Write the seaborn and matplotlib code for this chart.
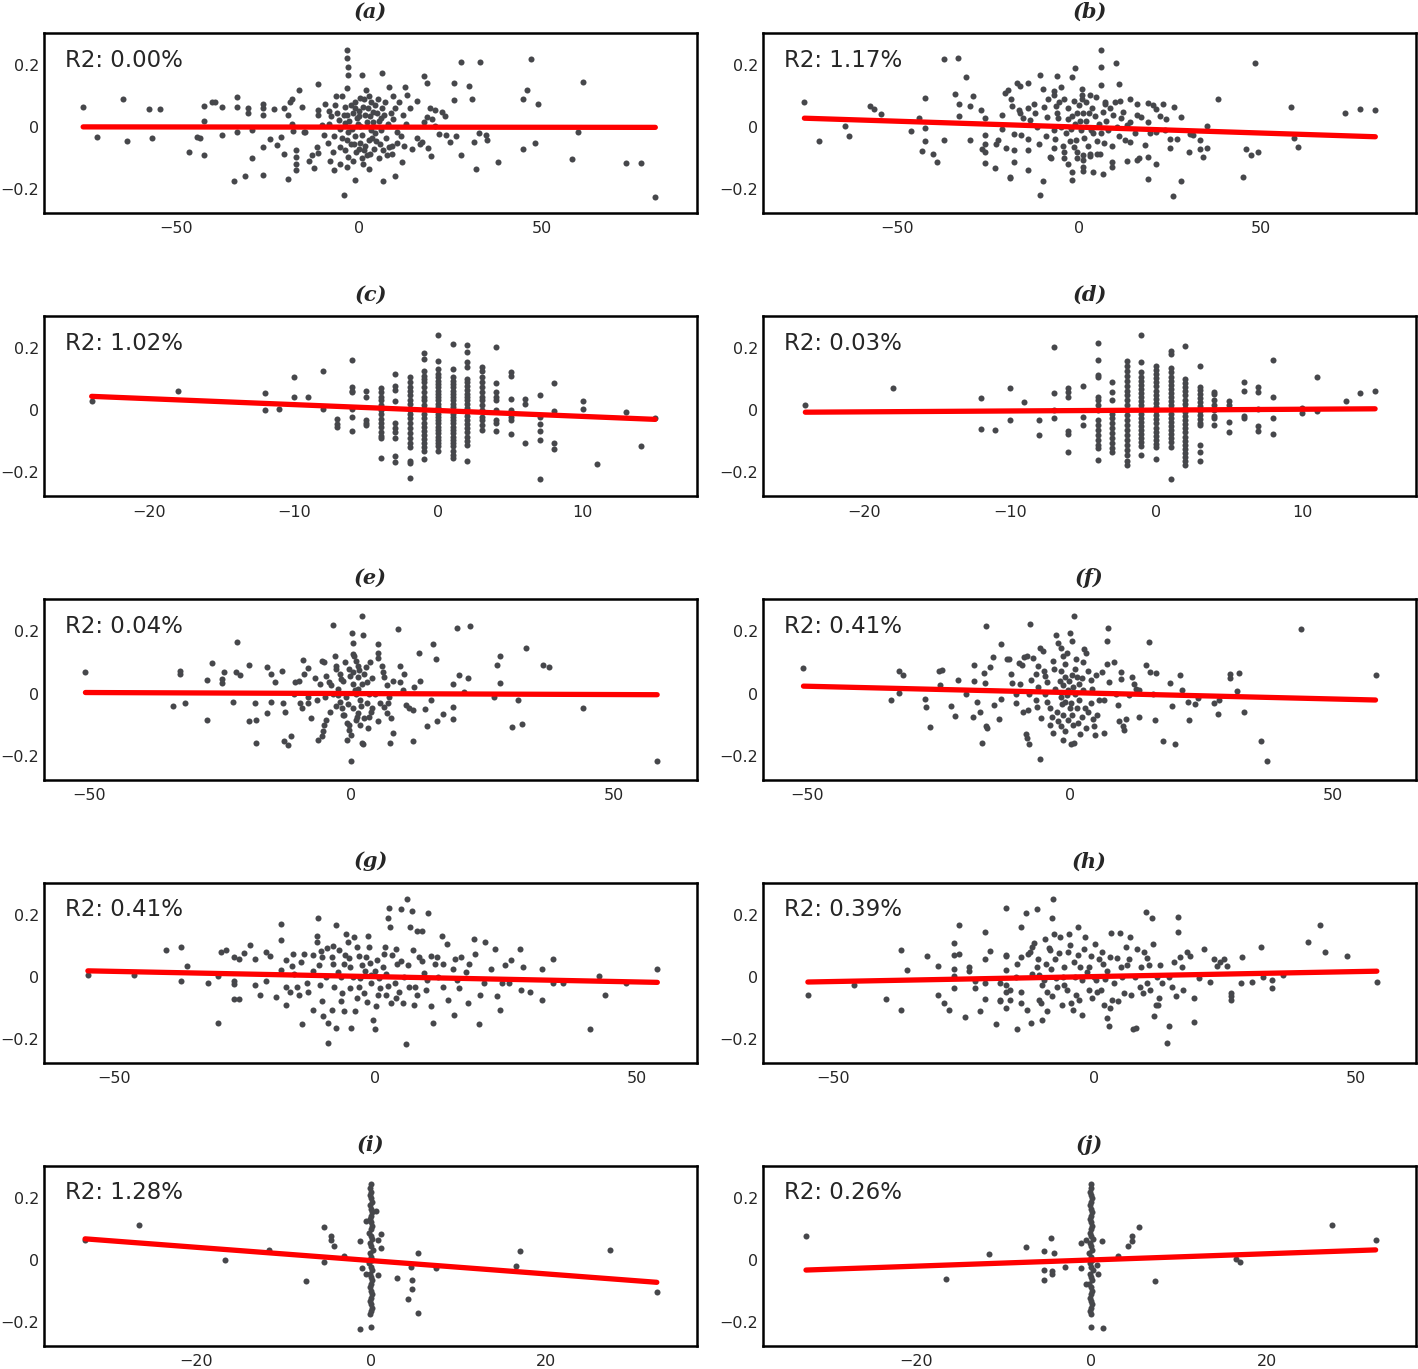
import numpy as np
import pandas as pd
import matplotlib
matplotlib.use('Agg')
import matplotlib.pyplot as plt
import seaborn as sns

# points, one list per panel (x, y)
a_pts = [(-75.3, 0.065), (-71.4, -0.031), (-64.4, 0.089), (-63.3, -0.044), (-57.3, 0.058), (-54.3, 0.058), (-56.4, -0.036),
         (-46.3, -0.08), (-42.3, -0.09), (-42.3, 0.02), (-42.3, 0.067), (-40.2, 0.08), (-39.3, 0.08), (-44.2, -0.032), (-43.3, -0.035),
         (-37.3, 0.065), (-37.3, -0.026), (-33.2, 0.097), (-33.2, 0.065), (-33.2, -0.017), (-34.2, -0.173), (-31, -0.158), (-29.2, -0.1),
         (-30.3, 0.062), (-30.3, 0.046), (-29.2, -0.01), (-26.2, 0.073), (-26.2, 0.06), (-26.2, 0.039), (-26.2, -0.064), (-26.2, -0.155),
         (-24.2, -0.037), (-23.2, 0.059), (-22.3, -0.059), (-21.2, -0.031), (-20.3, -0.088), (-19.2, -0.166), (-20.3, 0.06), (-18.8, 0.08),
         (-18.3, 0.09), (-19.2, 0.038), (-18.3, 0.011), (-17.9, -0.014), (-17.2, -0.075), (-17.2, -0.096), (-17, -0.12), (-17, -0.137),
         (-16.2, 0.12), (-15.5, 0.066), (-15, -0.017), (-14.6, -0.017), (-13.7, -0.11), (-12.8, -0.09), (-12.3, -0.133), (-11.1, 0.138),
         (-11, 0.055), (-11.1, 0.039), (-11.3, -0.064), (-11, -0.084), (-10, 0.006), (-9.6, -0.026), (-9.1, 0.073), (-8.2, 0.051),
         (-6.8, -0.137), (-6.1, 0.1), (-6.8, -0.03), (-5.5, 0.023), (-5, -0.007), (-5, -0.064), (-5, -0.118), (-4.1, -0.219),
         (-3.2, 0.248), (-3.2, 0.222), (-2.8, 0.194), (-2.8, 0.168), (-3.2, 0.125), (-3.6, 0.066), (-3.2, 0.039), (-3.6, 0.012),
         (-2.8, -0.015), (-3.2, -0.042), (-3.6, -0.074), (-2.8, -0.096), (-3.2, -0.128), (-1.1, -0.171), (-0.9, 0.08), (0, 0.051),
         (-0.5, 0.03), (0.5, 0.005), (-1, -0.03), (0.3, -0.05), (-0.6, -0.08), (1, -0.1), (0.9, 0.168), (2, 0.12), (1.5, 0.09),
         (2.5, 0.06), (3, 0.035), (2.2, 0.015), (3.5, -0.01), (2.8, -0.04), (1.8, -0.06), (3.2, -0.085), (2.9, -0.136), (4.6, 0.07),
         (5, 0.045), (5.5, 0.02), (4.5, -0.02), (5.8, -0.055), (6.4, 0.174), (6.8, -0.172), (7.3, 0.08), (7, 0.04), (8, 0.01),
         (7.5, -0.035), (8.2, -0.065), (7.8, -0.09), (8.2, 0.13), (9.5, 0.1), (10, 0.06), (9.5, 0.025), (10.5, -0.015), (10, -0.158),
         (10.5, -0.05), (11.9, -0.112), (12.8, 0.13), (13.2, 0.105), (12, 0.04), (13, 0.01), (12.5, -0.06), (15.9, 0.084),
         (15.9, -0.034), (16.9, -0.055), (17.4, -0.047), (17.8, 0.164), (18.7, 0.143), (19.6, 0.063), (21, 0.055), (18.7, 0.033),
         (20.1, 0.027), (21, 0.003), (17.8, 0.017), (19.1, -0.068), (19.9, -0.092), (22.8, 0.048), (23.7, 0.035), (22, -0.022),
         (23.9, -0.026), (25, -0.047), (26.5, -0.03), (26, 0.141), (26, 0.087), (28, 0.21), (28, -0.09), (30.1, 0.131), (31, 0.09),
         (32.8, -0.018), (31.5, -0.047), (32, -0.134), (33.1, 0.21), (34.7, -0.025), (35, -0.04), (38.2, -0.113), (45, 0.089),
         (45.9, 0.119), (47, 0.22), (49, 0.073), (45, -0.07), (48.1, -0.052), (58.2, -0.104), (60.1, -0.017), (61.2, 0.144),
         (73.1, -0.114), (77.2, -0.115), (81.1, -0.224),
         (-2, 0.07), (-1.5, 0.045), (-2.5, 0.02), (-1.8, -0.005), (-2.2, -0.055), (-1.5, -0.11), (0.5, 0.095), (1.2, 0.065),
         (-0.3, 0.01), (0.8, -0.025), (1.5, -0.075), (1.2, -0.12), (2.8, 0.1), (3.8, 0.05), (4, 0.015), (3.6, -0.035), (4.2, -0.07),
         (5.2, 0.09), (6, -0.01), (6.2, 0.03), (5.6, -0.1), (8.8, 0.045), (9.2, -0.06), (11, 0.08), (11.5, -0.03), (14, 0.06),
         (14.5, -0.07), (-7.5, 0.035), (-8.5, -0.05), (-6.5, 0.07), (-4.5, 0.1), (-7, -0.08),
         (-1, 0.06), (0.2, 0.035), (1.8, 0.04), (-1.2, -0.055), (0, -0.07), (2.2, -0.09), (3.5, 0.08), (4.8, -0.045),
         (6.5, 0.06), (6.8, -0.075), (-6, 0.045), (-8, 0.01), (-4, 0.04), (-4.5, -0.035), (-7.8, -0.11), (9, -0.085)]

b_pts = [(-75.6, 0.08), (-71.6, -0.044), (-64.5, 0.004), (-63.4, -0.027), (-57.4, 0.068), (-56.3, 0.057), (-54.4, 0.041),
         (-46.2, -0.013), (-44.1, 0.03), (-42.3, 0.094), (-42.3, -0.003), (-42.3, -0.045), (-43.2, -0.077), (-40.2, -0.088),
         (-39.2, -0.112), (-37.2, 0.218), (-33.2, 0.222), (-37.2, -0.042), (-34.2, 0.108), (-33, 0.074), (-33, 0.035), (-31, 0.16),
         (-29.1, 0.1), (-30, 0.068), (-30, -0.042), (-27.1, 0.055), (-25.9, 0.03), (-26, -0.024), (-26, -0.053), (-26.6, -0.069),
         (-26, -0.08), (-26, -0.115), (-23.1, -0.133), (-22.9, -0.053), (-22.3, -0.04), (-21.2, 0.038), (-21.2, -0.007),
         (-20.3, 0.11), (-19.4, 0.119), (-20, -0.066), (-18.8, 0.089), (-18.4, 0.068), (-19.1, -0.16), (-19.1, -0.165),
         (-18, -0.021), (-18, -0.074), (-18, -0.113), (-17.1, 0.141), (-16.2, 0.133), (-16.6, 0.055), (-16.2, 0.044),
         (-15.3, 0.028), (-16, -0.025), (-13.9, 0.141), (-14, 0.061), (-13.4, 0.024), (-13.9, -0.037), (-13.9, -0.074),
         (-14, -0.137), (-12.5, 0.074), (-11.6, 0.0), (-11.1, -0.053), (-10.7, -0.219), (-10.8, 0.167), (-10, 0.122),
         (-9.6, 0.064), (-8.7, 0.031), (-9.9, -0.173), (-7.7, -0.1), (-6.8, 0.105), (-6.3, 0.068), (-5.9, 0.028), (-6.6, -0.037),
         (-6.8, -0.066), (6.0, 0.248), (6, 0.192), (6, 0.137), (10.1, 0.208), (11, 0.139), (-1.1, 0.189), (-2, 0.16), (-6.1, 0.165),
         (-5, 0.13), (-7, 0.117), (0.9, 0.124), (0.9, 0.105), (0.9, 0.089), (3, 0.103), (4.8, 0.098), (7.1, 0.082), (7.1, 0.074),
         (9.9, 0.082), (11.3, 0.084), (14, 0.089), (16.1, 0.074), (19.1, 0.078), (20.4, 0.071), (21.3, 0.057), (23.2, 0.074),
         (26.2, 0.065), (38.3, 0.089), (48.4, 0.207), (58.4, 0.065), (73.3, 0.046), (77.5, 0.059), (81.6, 0.056), (35.3, 0.005),
         (28.2, 0.033), (24.1, 0.025), (22.2, 0.036), (19.1, 0.017), (17.2, 0.033), (14, 0.017), (13.1, 0.008), (30.5, -0.022),
         (31.4, -0.026), (33.2, -0.042), (35.3, -0.066), (33.2, -0.069), (34.2, -0.096), (30.2, -0.08), (25, -0.037),
         (27.1, -0.037), (25.2, -0.066), (23.6, -0.009), (21.1, -0.015), (19.5, -0.018), (18.1, -0.058), (19.1, -0.096),
         (21.2, -0.12), (16.1, -0.106), (16.6, -0.099), (13.1, -0.109), (14, -0.047), (12.6, -0.04), (19, -0.167), (26, -0.222),
         (28, -0.174), (45.2, -0.16), (46, -0.069), (47.3, -0.09), (49.3, -0.079), (59.3, -0.035), (60.4, -0.063), (9, -0.061),
         (9, -0.112), (9, -0.128), (6.7, -0.152), (3.9, -0.143), (-2, -0.144), (-2, -0.169), (1, -0.106), (1, -0.128),
         (3, -0.093), (4.9, -0.088), (5.8, -0.087), (1.2, -0.09), (-0.6, -0.079), (-4, -0.101), (-4, -0.079), (-8, -0.096),
         (-4, 0.09), (-3, 0.06), (-2, 0.035), (-1, 0.01), (-3.5, -0.02), (-2.5, -0.045), (-1.5, -0.065), (0, 0.07), (1, 0.045),
         (2, 0.02), (0.5, -0.01), (1.5, -0.035), (2.5, -0.06), (3.5, 0.06), (4.5, 0.035), (5.5, 0.01), (4, -0.02), (5, -0.045),
         (6.5, 0.05), (7.5, 0.02), (8, -0.01), (7, -0.05), (9.5, 0.04), (10.5, 0.0), (11, -0.03), (12, 0.05), (-6, 0.045),
         (-5, 0.0), (-7, -0.01), (-4.5, -0.06), (-5.5, 0.08), (2, 0.08), (3, -0.085), (-0.5, -0.1), (-3, -0.12), (1, -0.14),
         (-1.5, 0.085), (-0.5, 0.045), (0.2, 0.02), (-2.2, -0.005), (-0.8, -0.04), (2.8, 0.045), (3.2, -0.01), (6.2, -0.02),
         (8.5, 0.06), (-3, 0.025), (-9, -0.03), (-12, 0.045), (15.5, -0.02), (11.5, 0.03), (16, 0.04), (-8.5, 0.09)]

# panels c and d have integer x values: column -> y values
c_cols = {-24: [0.03], -18: [0.063], -12: [0.055, 0.0], -11: [0.003], -10: [0.106, 0.044], -9: [0.044],
          -8: [0.127, 0.003], -7: [-0.027, -0.043, -0.053], -6: [0.162, 0.076, 0.063, 0.058, 0.003, -0.021, -0.066],
          -5: [0.063, 0.044, -0.03, -0.04, -0.048],
          -4: [0.072, 0.058, 0.044, 0.032, 0.016, 0.002, -0.013, -0.027, -0.04, -0.053, -0.069, -0.083, -0.088, -0.154],
          -3: [0.116, 0.079, 0.065, 0.03, -0.042, -0.058, -0.069, -0.09, -0.148, -0.167],
          -2: [0.106, 0.09, 0.076, 0.063, 0.048, 0.032, 0.021, 0.0, -0.013, -0.026, -0.042, -0.058, -0.074, -0.09, -0.106,
               -0.119, -0.164, -0.171, -0.217],
          -1: [0.185, 0.164, 0.127, 0.111, 0.1, 0.09, 0.074, 0.058, 0.044, 0.032, 0.018, 0.003, -0.013, -0.026, -0.04, -0.053,
               -0.066, -0.079, -0.093, -0.106, -0.119, -0.132, -0.157],
          0: [0.241, 0.159, 0.132, 0.116, 0.106, 0.095, 0.085, 0.074, 0.063, 0.053, 0.042, 0.032, 0.021, 0.011, 0.0, -0.011,
              -0.021, -0.032, -0.042, -0.053, -0.063, -0.074, -0.085, -0.095, -0.106, -0.116, -0.132],
          1: [0.212, 0.132, 0.106, 0.095, 0.085, 0.074, 0.063, 0.053, 0.042, 0.032, 0.021, 0.011, 0.0, -0.011, -0.021, -0.032,
              -0.042, -0.053, -0.063, -0.074, -0.085, -0.095, -0.106, -0.116, -0.132, -0.143, -0.153],
          2: [0.211, 0.187, 0.156, 0.14, 0.101, 0.09, 0.079, 0.066, 0.053, 0.042, 0.032, 0.021, 0.008, -0.005, -0.018, -0.032,
              -0.045, -0.058, -0.071, -0.085, -0.098, -0.111, -0.164],
          3: [0.14, 0.127, 0.106, 0.09, 0.074, 0.058, 0.044, 0.032, 0.016, 0.0, -0.021, -0.032, -0.048, -0.062],
          4: [0.204, 0.087, 0.058, 0.044, 0.032, 0.0, -0.03, -0.042, -0.066],
          5: [0.122, 0.111, 0.037, 0.0, -0.021, -0.032, -0.076], 6: [0.037, 0.021, -0.104],
          7: [0.048, -0.021, -0.043, -0.066, -0.096, -0.22], 8: [0.088, -0.002, -0.106, -0.125],
          10: [0.03, 0.003], 11: [-0.172], 13: [-0.005], 14: [-0.115], 15: [-0.024]}

d_cols = {-24: [0.018], -18: [0.071], -12: [0.039, -0.06], -11: [-0.063], -10: [0.071, -0.032], -9: [0.026],
          -8: [-0.03, -0.079], -7: [0.203, 0.056, 0.002, -0.024], -6: [0.071, 0.058, 0.042, -0.066, -0.076, -0.135],
          -5: [0.077, -0.021, -0.048],
          -4: [0.217, 0.161, 0.113, 0.106, 0.044, 0.032, 0.016, 0.0, -0.032, -0.048, -0.063, -0.079, -0.095, -0.111, -0.122,
               -0.159],
          -3: [0.09, 0.06, 0.032, -0.011, -0.026, -0.042, -0.058, -0.074, -0.09, -0.106, -0.122, -0.135],
          -2: [0.159, 0.143, 0.127, 0.111, 0.095, 0.079, 0.063, 0.048, 0.032, 0.016, 0.0, -0.016, -0.032, -0.048, -0.063,
               -0.079, -0.095, -0.111, -0.127, -0.143, -0.164, -0.175],
          -1: [0.243, 0.157, 0.122, 0.108, 0.095, 0.082, 0.069, 0.056, 0.042, 0.029, 0.016, 0.003, -0.011, -0.024, -0.037,
               -0.05, -0.063, -0.077, -0.09, -0.103, -0.116, -0.143],
          0: [0.143, 0.13, 0.116, 0.103, 0.09, 0.077, 0.063, 0.05, 0.037, 0.024, 0.011, -0.003, -0.016, -0.029, -0.042,
              -0.056, -0.069, -0.082, -0.095, -0.108, -0.119, -0.156],
          1: [0.19, 0.182, 0.135, 0.122, 0.108, 0.095, 0.082, 0.069, 0.056, 0.042, 0.029, 0.016, 0.003, -0.011, -0.024,
              -0.037, -0.05, -0.063, -0.077, -0.09, -0.103, -0.119, -0.22],
          2: [0.206, 0.1, 0.087, 0.074, 0.061, 0.048, 0.034, 0.021, 0.008, -0.005, -0.018, -0.032, -0.045, -0.058, -0.071,
              -0.085, -0.098, -0.111, -0.124, -0.138, -0.151, -0.164, -0.175],
          3: [0.143, 0.076, 0.066, 0.053, 0.04, 0.026, 0.013, -0.003, -0.016, -0.029, -0.042, -0.048, -0.111, -0.135, -0.164],
          4: [0.06, 0.053, 0.034, 0.016, 0.0, -0.019, -0.026, -0.048], 5: [0.03, 0.016, -0.037, -0.069],
          6: [0.092, 0.063, -0.019, -0.024], 7: [0.076, 0.058, 0.005, -0.051, -0.066], 8: [0.162, 0.044, -0.024, -0.076],
          10: [0.007, -0.008], 11: [0.106, -0.003], 13: [0.03], 14: [0.056], 15: [0.063]}

e_pts = [(-50.7, 0.068), (-34.1, -0.04), (-31.7, -0.03), (-32.6, 0.063), (-32.6, 0.072), (-27.5, 0.044), (-27.5, -0.085),
         (-26.6, 0.097), (-24.7, 0.048), (-24.6, 0.034), (-24.3, 0.068), (-22.6, -0.026), (-22, 0.068), (-21.2, 0.061),
         (-21.8, 0.167), (-19.6, -0.09), (-18.2, -0.085), (-19.6, 0.092), (-18.4, -0.032), (-18.1, -0.159), (-16.1, 0.085),
         (-15.4, 0.063), (-14.5, 0.037), (-15.4, -0.026), (-16.1, -0.063), (-13.3, 0.072), (-12.8, -0.153), (-12, -0.167),
         (-11.6, -0.138), (-12.7, -0.061), (-10.7, 0.037), (-10, 0.04), (-9.7, -0.032), (-9.4, -0.048), (-9.3, 0.108),
         (-9, 0.063), (-8.2, 0.083), (-8.3, -0.011), (-8.2, -0.032), (-7.7, -0.079), (-6.3, -0.148), (-5.6, -0.138),
         (-5.4, -0.122), (-5.2, -0.101), (-4.8, -0.085), (-5.6, 0.106), (-5.2, 0.101), (-4.9, 0.058), (-4.3, 0.037),
         (-3.9, 0.026), (-3.5, 0.222), (-3.2, 0.122), (-2.9, 0.09), (-2.2, 0.063), (-2, 0.048), (-2.6, -0.005), (-2.2, -0.026),
         (-1.8, -0.048), (-1.4, -0.069), (-0.9, -0.095), (-0.5, -0.116), (-0.1, -0.132), (-0.9, -0.148), (-0.1, -0.217),
         (0.1, 0.196), (0.3, 0.164), (0.3, 0.127), (0.8, 0.106), (1.2, 0.09), (0.3, 0.069), (1.2, 0.053), (0.3, 0.032),
         (1.2, 0.016), (0.8, 0.0), (1.6, -0.021), (0.3, -0.048), (1.2, -0.063), (0.8, -0.085), (1.6, -0.101), (2, 0.249),
         (2.2, 0.19), (2, -0.159), (2.2, -0.164), (2.5, 0.063), (2.9, 0.037), (3.3, 0.0), (2.9, -0.032), (3.7, -0.058),
         (3.3, -0.074), (5, 0.161), (5, 0.132), (5, 0.116), (5.9, 0.09), (6.3, 0.053), (6.7, 0.026), (7.1, -0.011),
         (6.3, -0.042), (6.7, -0.063), (7.6, -0.079), (7.3, -0.159), (8, -0.127), (8.8, 0.208), (9.3, 0.09), (10.1, 0.063),
         (9.3, 0.037), (9.9, 0.011), (10.4, -0.037), (11, -0.048), (11.8, -0.053), (11.8, -0.153), (12.9, 0.13), (13.1, 0.04),
         (14.5, -0.106), (15.2, -0.021), (15.5, 0.161), (16.2, 0.111), (16.3, -0.09), (17.5, -0.066), (19.4, -0.042),
         (19.4, -0.083), (19.4, 0.032), (20.1, 0.212), (20.6, 0.061), (21.4, 0.005), (22.3, 0.051), (22.7, 0.219),
         (27.1, -0.011), (27.7, 0.092), (28.4, 0.122), (28.4, 0.034), (30.7, -0.108), (31.8, -0.021), (32.5, -0.098),
         (33.2, 0.146), (36.5, 0.092), (37.6, 0.087), (44.1, -0.048), (58.3, -0.217),
         (-3, 0.08), (-1.5, 0.04), (-2.5, 0.015), (-1, -0.01), (-3, -0.04), (-1.5, -0.07), (0.5, 0.12), (1.5, 0.075),
         (2, 0.03), (1.8, -0.04), (2.5, -0.08), (-0.5, -0.1), (3.5, 0.1), (4, 0.05), (4.5, 0.0), (4, -0.045), (5, -0.09),
         (-6, 0.03), (-6.5, -0.02), (-7, 0.05), (6, 0.07), (7, -0.03), (8, 0.04), (-4, -0.06), (-0.5, 0.08),
         (-0.2, 0.055), (0.6, 0.01), (-0.6, -0.035), (1, -0.075), (-1.2, 0.1), (2.8, 0.085), (3.2, -0.11), (-3.5, 0.0),
         (-5, -0.01), (5.5, -0.03), (-11, 0.0), (-13, -0.03), (12, 0.02), (14, -0.05)]

f_pts = [(-50.7, 0.083), (-34.1, -0.021), (-32.6, 0.071), (-31.8, 0.06), (-32.6, 0.003), (-27.6, -0.019), (-27.4, -0.042),
         (-26.7, -0.108), (-25, 0.071), (-24.4, 0.076), (-24.8, 0.026), (-22.6, -0.039), (-21.8, -0.072), (-21.3, 0.044),
         (-19.8, 0.0), (-18.5, -0.074), (-18.3, 0.092), (-18.3, 0.04), (-17.6, -0.026), (-17.2, -0.058), (-16.7, -0.159),
         (-16.4, 0.066), (-16.1, 0.034), (-15.9, 0.219), (-15.9, -0.106), (-15.7, -0.111), (-15.2, 0.087), (-14.6, 0.119),
         (-14.4, -0.037), (-13.5, -0.083), (-13.1, -0.019), (-13.1, 0.161), (-12, 0.111), (-11.7, 0.111), (-11.3, 0.063),
         (-11.1, 0.034), (-10.3, -0.032), (-10.2, -0.002), (-9.8, 0.097), (-9.1, 0.093), (-8.7, 0.119), (-8.2, 0.122),
         (-8, -0.053), (-7.8, -0.002), (-7.7, 0.224), (-8.4, -0.129), (-8.2, -0.143), (-7.8, -0.164), (-7.4, 0.042),
         (-7, 0.114), (-6.5, 0.063), (-6.5, -0.021), (-6.3, -0.042), (-5.7, -0.212), (-5.7, 0.148), (-5.2, 0.138),
         (-5, 0.074), (-4.8, 0.058), (-4.4, 0.037), (-4.8, 0.0), (-4.4, -0.026), (-3.9, -0.048), (-3.5, -0.074),
         (-3.9, -0.101), (-3.3, -0.127), (-2.6, 0.19), (-2.2, 0.164), (-1.7, 0.148), (-1.3, 0.122), (-0.9, 0.095),
         (-1.7, 0.074), (-0.9, 0.053), (-1.3, 0.026), (-0.4, 0.011), (-1.7, -0.011), (-0.9, -0.026), (0, -0.048),
         (-1.3, -0.069), (-0.4, -0.085), (-1.7, -0.106), (-0.9, -0.122), (-1.3, -0.148), (0, 0.196), (0.4, 0.169),
         (0.7, 0.249), (0.2, -0.164), (0.7, -0.159), (0.9, 0.079), (1.3, 0.053), (1.7, 0.032), (0.9, 0.0), (1.7, -0.021),
         (1.3, -0.048), (2.2, -0.074), (1.6, -0.095), (2.6, 0.143), (3, 0.132), (3.5, 0.074), (3.9, 0.042), (4.2, 0.016),
         (3.9, -0.032), (3.5, -0.058), (4.4, -0.083), (4.5, -0.106), (4.8, -0.132), (6.1, 0.069), (6.5, -0.021), (7, 0.095),
         (7.2, 0.212), (7.4, 0.037), (7, 0.169), (6.5, -0.127), (8.3, 0.101), (8.7, 0.0), (9.1, -0.037), (9.4, -0.09),
         (9.6, 0.048), (9.7, 0.069), (10, -0.106), (10.2, -0.116), (10.6, -0.083), (11.3, -0.005), (11.7, 0.053),
         (12.2, 0.032), (12.6, 0.016), (13.1, 0.011), (13.1, -0.074), (14.4, 0.092), (15, 0.166), (15.2, 0.069),
         (15.7, 0.0), (16.1, -0.085), (16.4, 0.067), (17.6, -0.153), (19.1, 0.034), (19.3, -0.039), (20, -0.164),
         (20.9, 0.06), (21.3, 0.011), (22.4, -0.026), (22.6, -0.085), (23.8, -0.035), (24.4, -0.014), (27.4, -0.032),
         (28.1, -0.066), (28.3, -0.021), (30.5, 0.063), (30.5, 0.051), (32.2, 0.067), (31.8, 0.007), (33.1, -0.058),
         (36.4, -0.153), (37.4, -0.217), (43.9, 0.208), (58.1, 0.06),
         (-3, 0.08), (-2, 0.04), (-2.8, 0.015), (-1.5, -0.035), (-2.5, -0.06), (-0.5, 0.13), (0.3, 0.06), (0.5, 0.02),
         (0.4, -0.07), (0.6, -0.1), (2.5, 0.1), (2.5, 0.01), (2.8, -0.045), (3, -0.11), (5, 0.06), (5.5, -0.02),
         (5.2, -0.07), (-6, 0.09), (-6, 0.02), (-5.5, -0.08), (-9.5, 0.03), (-9, -0.06),
         (-0.2, 0.04), (-0.6, -0.005), (0.2, -0.03), (-2.2, -0.09), (1.1, 0.11), (-3.3, 0.105), (1.9, -0.13), (2.2, 0.05)]

g_pts = [(-55, 0.005), (-46.1, 0.005), (-40, 0.085), (-37.1, 0.095), (-37.1, -0.014), (-36, 0.034), (-32, -0.019),
         (-30.1, -0.148), (-30.1, 0.003), (-29.6, 0.081), (-28.6, 0.085), (-27.1, 0.063), (-26.1, 0.058), (-27.1, -0.014),
         (-27.1, -0.023), (-27.1, -0.072), (-26.1, -0.072), (-25.2, 0.076), (-23.9, 0.101), (-23, 0.058), (-23, -0.026),
         (-22.1, -0.06), (-21, 0.081), (-21, -0.014), (-20.1, 0.067), (-19, -0.066), (-18, 0.169), (-18, 0.119), (-18, 0.021),
         (-17.1, 0.053), (-17, -0.032), (-17, -0.09), (-16.3, -0.048), (-16, 0.034), (-15.8, 0.074), (-15, -0.032),
         (-14.6, -0.058), (-14.3, 0.048), (-14, -0.151), (-13.7, 0.074), (-12.9, -0.048), (-12, 0.069), (-12, -0.108),
         (-11.2, 0.132), (-11.2, 0.111), (-11, 0.19), (-10.7, 0.037), (-10.6, -0.026), (-10.3, 0.083), (-10.1, 0.063),
         (-10.1, -0.079), (-9.9, -0.127), (-9.2, 0.093), (-9, -0.212), (-9, -0.148), (-8.3, -0.106), (-8.2, 0.063),
         (-8, 0.042), (-7.8, -0.032), (-7.5, 0.167), (-7.5, -0.164), (-7.2, 0.016), (-6.9, 0.085), (-6.6, -0.079),
         (-6.5, 0.0), (-6.3, -0.053), (-6, 0.042), (-5.8, 0.069), (-5.5, 0.138), (-5.2, 0.113), (-4.9, 0.032), (-4.8, -0.037),
         (-4.6, -0.164), (-4.3, 0.0), (-4.1, 0.127), (-3.9, -0.111), (-3.5, 0.095), (-3.1, 0.066), (-3.1, -0.032),
         (-2.6, 0.037), (-2.2, -0.053), (-1.8, 0.063), (-1.4, 0.132), (-1.2, 0.095), (-0.9, 0.005), (-0.9, -0.021),
         (-0.5, -0.138), (-0.1, -0.169), (0.2, -0.095), (0.3, 0.053), (0.8, -0.005), (1, -0.037), (1.6, 0.074), (1.9, 0.095),
         (2, -0.058), (2.5, 0.19), (2.7, 0.222), (2.9, 0.159), (3.1, -0.085), (3.3, 0.069), (3.7, -0.021), (4.2, 0.042),
         (4.6, -0.048), (4.9, 0.217), (5.3, -0.085), (5.5, 0.0), (5.9, -0.217), (6.1, 0.249), (6.3, 0.037), (6.5, -0.032),
         (6.7, 0.161), (7, 0.212), (7.2, 0.085), (7.6, -0.032), (8, 0.146), (8.4, 0.063), (8.9, 0.146), (9.3, 0.011),
         (9.7, -0.042), (10.1, 0.206), (10.6, 0.066), (10.7, -0.095), (11.1, -0.148), (11.4, 0.042), (11.8, 0.063),
         (12.7, 0.132), (12.9, -0.032), (13.8, 0.106), (14, -0.074), (14.8, 0.026), (15, -0.122), (15.2, 0.058),
         (15.7, -0.011), (16.1, -0.037), (16.5, 0.063), (17.4, 0.016), (17.8, -0.085), (18.9, 0.122), (19.1, 0.074),
         (19.8, -0.153), (20.8, -0.019), (21, 0.111), (22.1, 0.026), (22.9, 0.09), (23.3, -0.063), (23.8, -0.106),
         (24.2, -0.021), (24.9, 0.037), (25.6, -0.021), (25.9, 0.053), (27.8, 0.09), (28, -0.042), (28.3, 0.032),
         (29.7, -0.048), (31.9, -0.074), (31.9, 0.026), (34, 0.058), (34, -0.021), (35.9, -0.021), (41.1, -0.167),
         (42.9, 0.003), (44, -0.058), (48, -0.021), (54, 0.026),
         (-2, 0.02), (-1, 0.045), (0, 0.02), (1.5, 0.03), (-3.5, -0.07), (-1.5, -0.08), (0.5, -0.06), (2.5, -0.03),
         (4, 0.09), (5, 0.05), (8, -0.06), (9, 0.05), (12, 0.0), (-8, 0.1), (-12, 0.02), (-13, -0.02),
         (-5, 0.06), (-3, -0.005), (2, 0.01), (4, -0.07), (10, -0.01), (13, 0.04), (-9.5, 0.0), (-15.5, 0.01), (18, 0.04),
         (20, -0.06), (7.5, -0.09), (-6, -0.11)]

h_pts = [(-54.9, -0.058), (-46, -0.026), (-39.9, -0.072), (-37, 0.085), (-37, -0.106), (-35.9, 0.023), (-32, 0.066),
         (-30, 0.034), (-30, -0.058), (-28.9, -0.083), (-27.9, -0.106), (-27, 0.108), (-27, 0.069), (-27, 0.026),
         (-27, 0.003), (-27, -0.037), (-25.9, 0.166), (-25.9, 0.074), (-24.8, -0.13), (-24, 0.03), (-24, 0.018),
         (-22.8, -0.014), (-22.8, -0.037), (-21.9, -0.109), (-20.9, 0.145), (-20.9, 0.058), (-20.9, -0.072), (-20.9, -0.019),
         (-20, 0.083), (-18.9, -0.153), (-18, -0.021), (-18, -0.074), (-18, -0.079), (-17, 0.222), (-17, 0.069),
         (-17, 0.021), (-17, -0.026), (-17, -0.048), (-17, -0.101), (-16.9, 0.066), (-16.1, -0.042), (-16.1, -0.074),
         (-14.9, -0.167), (-14.9, 0.042), (-14.1, 0.161), (-14.1, 0.063), (-14.1, -0.048), (-14.1, -0.085),
         (-13.2, 0.206), (-12.9, -0.106), (-12.8, 0.074), (-12.3, 0.079), (-12.1, -0.148), (-11.9, 0.095), (-11.5, 0.108),
         (-11, 0.219), (-11, 0.032), (-10.8, 0.058), (-10.6, 0.005), (-10.6, -0.074), (-10.3, -0.085), (-10.1, -0.138),
         (-10, -0.026), (-9.7, -0.011), (-9.4, 0.122), (-9.3, 0.042), (-9.1, -0.111), (-8.8, 0.093), (-8.6, 0.085),
         (-8.4, 0.026), (-8.2, 0.19), (-8.1, -0.063), (-8, 0.249), (-7.7, 0.138), (-7.5, 0.058), (-7.3, -0.005),
         (-7.1, -0.032), (-6.8, 0.076), (-6.6, 0.127), (-6.2, -0.09), (-5.9, -0.026), (-5.8, 0.032), (-5.3, -0.042),
         (-5.1, 0.079), (-4.9, 0.138), (-4.7, 0.101), (-4.5, -0.085), (-4.2, -0.106), (-4, 0.048), (-3.8, 0.0),
         (-3.6, -0.058), (-3.1, 0.161), (-3.1, 0.069), (-2.9, -0.076), (-2.7, 0.032), (-2.4, -0.011), (-2.3, -0.122),
         (-1.8, 0.127), (-1.4, 0.016), (-1, -0.042), (-0.7, 0.066), (-0.5, -0.069), (-0.1, 0.0), (0.2, 0.106),
         (0.3, -0.011), (0.8, 0.058), (1.2, -0.042), (1.7, 0.042), (1.9, -0.09), (2.1, -0.008), (2.5, -0.132),
         (2.8, -0.159), (3, 0.063), (3.2, 0.14), (3.4, -0.074), (3.8, -0.021), (4.3, 0.06), (4.5, -0.079), (4.9, 0.14),
         (5.2, 0.0), (5.6, -0.053), (6, 0.095), (6.3, 0.037), (6.6, 0.058), (6.9, 0.127), (7.3, -0.169), (7.8, 0.0),
         (8, -0.164), (8.2, 0.09), (8.7, -0.032), (8.9, 0.032), (9.3, -0.053), (9.5, 0.079), (9.8, 0.208), (10, -0.021),
         (10.4, 0.037), (10.7, -0.042), (11, 0.19), (11.3, 0.106), (11.5, -0.127), (11.7, -0.09), (12.2, -0.09),
         (12.4, -0.069), (12.6, 0.037), (13, -0.019), (13.9, -0.212), (14.2, -0.159), (14.3, 0.0), (14.8, -0.032),
         (15.2, 0.048), (15.6, -0.063), (16.1, 0.145), (16.1, 0.193), (16.3, 0.063), (16.8, 0.032), (17, -0.042),
         (17.8, 0.079), (18.3, 0.066), (19.1, -0.069), (19.1, -0.146), (20, -0.005), (20.9, 0.09), (22.2, -0.016),
         (22.9, 0.058), (23.5, 0.034), (24, 0.048), (24.8, 0.058), (25.3, 0.034), (26.1, -0.053), (26.1, -0.063),
         (26.1, -0.074), (28.1, -0.021), (28.3, 0.063), (30.1, -0.016), (32, 0.097), (32.3, 0.0), (34, -0.011),
         (34, -0.037), (36.2, 0.005), (41, 0.111), (43.2, 0.166), (44.1, 0.079), (48.3, 0.067), (54.1, -0.016),
         (-2, 0.09), (-1, 0.03), (0.5, -0.05), (1.5, 0.08), (3, -0.1), (-6, 0.0), (5, 0.03), (7, -0.06), (-9, -0.05),
         (10, 0.06), (-12, 0.01), (12, 0.0), (-15, 0.0), (2.5, 0.02)]

i_pts = [(-32.7, 0.063), (-26.5, 0.113), (-16.7, 0.0), (-11.7, 0.032), (-7.4, -0.067), (-5.4, 0.106), (-5.4, -0.005),
         (-4.6, 0.076), (-4.6, 0.063), (-4.2, 0.044), (-3.1, 0.014), (-1.3, 0.06), (-1, -0.026), (-0.6, 0.127), (-0.6, -0.046),
         (-1.3, -0.222), (0.6, 0.157), (0.8, 0.063), (0.8, -0.048), (1.2, 0.083), (1.2, 0.037), (0, -0.217), (3, -0.058),
         (4.2, -0.127), (4.6, -0.024), (4.7, -0.063), (4.7, -0.095), (5.4, 0.023), (5.4, -0.171), (7.4, -0.026),
         (16.6, -0.021), (17, 0.029), (27.4, 0.032), (32.7, -0.104),
         (0, 0.243), (-0.1, 0.232), (0, 0.22), (-0.1, 0.209), (0, 0.198), (0.1, 0.187), (-0.1, 0.176), (0, 0.165),
         (0.1, 0.154), (0, 0.143), (-0.1, 0.132), (0, 0.121), (0.1, 0.11), (0, 0.099), (-0.2, 0.088), (0, 0.077),
         (0.1, 0.066), (-0.1, 0.055), (0, 0.044), (0.2, 0.033), (-0.1, 0.022), (0, 0.011), (0.1, 0.0), (-0.2, -0.011),
         (0, -0.022), (0.1, -0.033), (-0.1, -0.044), (0, -0.055), (0.1, -0.066), (0, -0.077), (-0.1, -0.088), (0, -0.099),
         (0.1, -0.11), (0, -0.121), (-0.1, -0.132), (0, -0.143), (0.1, -0.154), (0, -0.165), (-0.1, -0.175)]

j_pts = [(-32.5, 0.076), (-16.6, -0.061), (-11.6, 0.018), (-7.4, 0.042), (-5.4, 0.03), (-5.4, -0.032), (-5.4, -0.063),
         (-4.6, 0.071), (-4.5, -0.037), (-4.5, -0.046), (-4.3, 0.024), (-3, -0.024), (-1.2, 0.055), (-0.6, 0.063),
         (-1.2, -0.026), (-0.6, -0.079), (0, -0.217), (1.2, 0.06), (1.3, -0.22), (0.7, -0.016), (0.8, -0.046), (3, 0.013),
         (4.2, 0.044), (4.6, 0.076), (4.6, 0.061), (5.4, 0.106), (7.3, -0.067), (16.5, 0.002), (17, -0.005), (27.4, 0.114),
         (32.4, 0.063),
         (0, 0.243), (0, 0.232), (-0.1, 0.22), (0, 0.209), (0.1, 0.198), (0, 0.187), (-0.1, 0.176), (0, 0.165),
         (0.1, 0.154), (0, 0.143), (-0.1, 0.132), (0, 0.121), (0.1, 0.11), (0, 0.099), (-0.1, 0.088), (0, 0.077),
         (0.2, 0.066), (-0.1, 0.055), (0, 0.044), (0.1, 0.033), (-0.2, 0.022), (0, 0.011), (0.1, 0.0), (-0.1, -0.011),
         (0, -0.022), (0.2, -0.033), (-0.1, -0.044), (0, -0.055), (0.1, -0.066), (-0.2, -0.077), (0, -0.088), (0.1, -0.099),
         (0, -0.11), (-0.1, -0.121), (0, -0.132), (0.1, -0.143), (0, -0.154), (-0.1, -0.165), (0, -0.175)]

panel_names = ['(a)', '(b)', '(c)', '(d)', '(e)', '(f)', '(g)', '(h)', '(i)', '(j)']
r2_labels = ['R2: 0.00%', 'R2: 1.17%', 'R2: 1.02%', 'R2: 0.03%', 'R2: 0.04%',
             'R2: 0.41%', 'R2: 0.41%', 'R2: 0.39%', 'R2: 1.28%', 'R2: 0.26%']
# fitted line: y = icept + slope * x
fit_slope = [-0.00001, -0.00038, -0.0019, 0.00028, -0.000065, -0.00041, -0.00034, 0.00032, -0.00214, 0.001]
fit_icept = [0.0, 0.0, -0.0006, 0.0007, 0.0, 0.003, 0.0003, 0.0006, -0.002, 0.0]
x_limits = [(-86, 92.5), (-87, 92.8), (-27.3, 17.9), (-26.9, 17.8), (-58.6, 65.9),
            (-58.4, 65.8), (-63.4, 61.6), (-63.5, 61.6), (-37.4, 37.3), (-37.4, 37.0)]
x_ticks = [[-50, 0, 50], [-50, 0, 50], [-20, -10, 0, 10], [-20, -10, 0, 10], [-50, 0, 50],
           [-50, 0, 50], [-50, 0, 50], [-50, 0, 50], [-20, 0, 20], [-20, 0, 20]]


def cols_to_pts(cols):
    return [(k, v) for k, vals in cols.items() for v in vals]


panels = [a_pts, b_pts, cols_to_pts(c_cols), cols_to_pts(d_cols), e_pts, f_pts, g_pts, h_pts, i_pts, j_pts]

sns.set_style('white')
plt.rcParams['font.family'] = ['DejaVu Sans']

fig, axes = plt.subplots(5, 2, figsize=(14.18, 13.69), dpi=100)
fig.subplots_adjust(left=44 / 1418, right=1416 / 1418, top=1 - 33 / 1369, bottom=1 - 1346 / 1369,
                    wspace=0.101, hspace=0.572)
axes = axes.flatten()

for i, ax in enumerate(axes):
    df = pd.DataFrame(panels[i], columns=['x', 'y'])
    sns.scatterplot(data=df, x='x', y='y', ax=ax, color='#46474b', s=19, linewidth=0, zorder=2)

    xs = np.array([df['x'].min(), df['x'].max()])
    fit = pd.DataFrame({'x': xs, 'y': fit_icept[i] + fit_slope[i] * xs})
    sns.lineplot(data=fit, x='x', y='y', ax=ax, color='#ff0000', linewidth=3.8, zorder=3)

    ax.set_xlim(*x_limits[i])
    ax.set_ylim(-0.277, 0.303)
    ax.set_xticks(x_ticks[i])
    ax.set_yticks([-0.2, 0, 0.2], ['\u22120.2', '0', '0.2'])
    ax.tick_params(length=0, labelsize=11.5)
    ax.tick_params(axis='x', pad=6)
    ax.tick_params(axis='y', pad=3.5)
    ax.set_xlabel('')
    ax.set_ylabel('')
    for sp in ax.spines.values():
        sp.set_color('black')
        sp.set_linewidth(1.8)

    ax.text(0.032, 0.85, r2_labels[i], transform=ax.transAxes, fontsize=16.5, va='center', ha='left')
    ax.set_title(panel_names[i], fontfamily='DejaVu Serif', fontweight='bold', fontstyle='italic',
                 fontsize=15, pad=11)

fig.savefig('out.png', dpi=100)
